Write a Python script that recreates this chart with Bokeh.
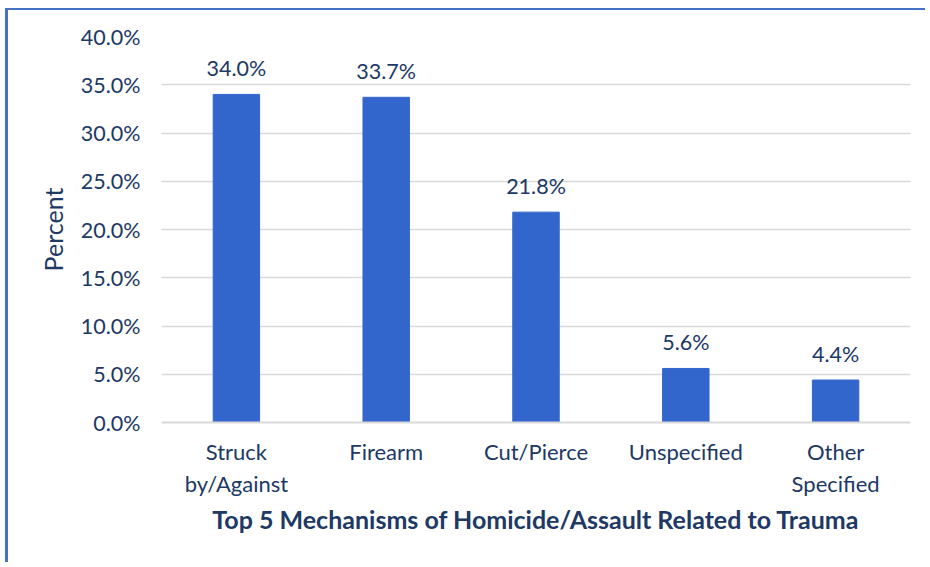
from bokeh.plotting import figure
from bokeh.models import Range1d, ColumnDataSource, FixedTicker, CustomJSTickFormatter
from bokeh.core.properties import value
from bokeh.embed import file_html
from bokeh.resources import INLINE

categories = ["Struck\nby/Against", "Firearm", "Cut/Pierce", "Unspecified", "Other\nSpecified"]
percents = [34.0, 33.7, 21.8, 5.6, 4.4]
labels = ["34.0%", "33.7%", "21.8%", "5.6%", "4.4%"]
y_ticks = [0, 5, 10, 15, 20, 25, 30, 35, 40]

TXT = "#203864"
BAR = "#3366CC"
FONT = "Lato"

src = ColumnDataSource(dict(cat=categories, val=percents, lab=labels))

p = figure(x_range=categories, y_range=Range1d(0, 40), width=920, height=554,
           output_backend="svg", toolbar_location=None,
           min_border_left=153, min_border_right=18, min_border_top=26, min_border_bottom=142)
p.styles = {"border-left": "3px solid #4472C4", "border-top": "2px solid #4472C4",
            "margin-left": "5px", "margin-top": "8px"}
p.outline_line_color = None

p.vbar(x="cat", top="val", width=0.31, source=src, color=BAR)
p.text(x="cat", y="val", text="lab", source=src, text_align="center", text_baseline="bottom",
       y_offset=-13, text_font=value(FONT), text_font_size="21.5px", text_color=TXT)

p.yaxis.ticker = FixedTicker(ticks=y_ticks)
p.yaxis.formatter = CustomJSTickFormatter(code="return tick.toFixed(1) + '%';")
p.yaxis.axis_line_color = None
p.yaxis.major_tick_line_color = None
p.yaxis.minor_tick_line_color = None
p.yaxis.major_label_standoff = 15
p.yaxis.major_label_text_font = FONT
p.yaxis.major_label_text_font_size = "21.5px"
p.yaxis.major_label_text_color = TXT
p.yaxis.axis_label = "Percent"
p.yaxis.axis_label_text_font = FONT
p.yaxis.axis_label_text_font_size = "25px"
p.yaxis.axis_label_text_font_style = "normal"
p.yaxis.axis_label_text_color = TXT
p.yaxis.axis_label_standoff = 10

p.xaxis.axis_line_color = "#D9D9D9"
p.xaxis.axis_line_width = 2
p.xaxis.major_tick_line_color = None
p.xaxis.minor_tick_line_color = None
p.xaxis.major_label_standoff = 9
p.xaxis.major_label_text_font = FONT
p.xaxis.major_label_text_font_size = "22px"
p.xaxis.major_label_text_color = TXT
p.xaxis.axis_label = "Top 5 Mechanisms of Homicide/Assault Related to Trauma"
p.xaxis.axis_label_text_font = FONT
p.xaxis.axis_label_text_font_size = "25px"
p.xaxis.axis_label_text_font_style = "bold"
p.xaxis.axis_label_text_color = TXT
p.xaxis.axis_label_standoff = 4

p.xgrid.grid_line_color = None
p.ygrid.grid_line_color = "#D9D9D9"
p.ygrid.grid_line_width = 1.5

open("out.html", "w").write(file_html(p, INLINE))
